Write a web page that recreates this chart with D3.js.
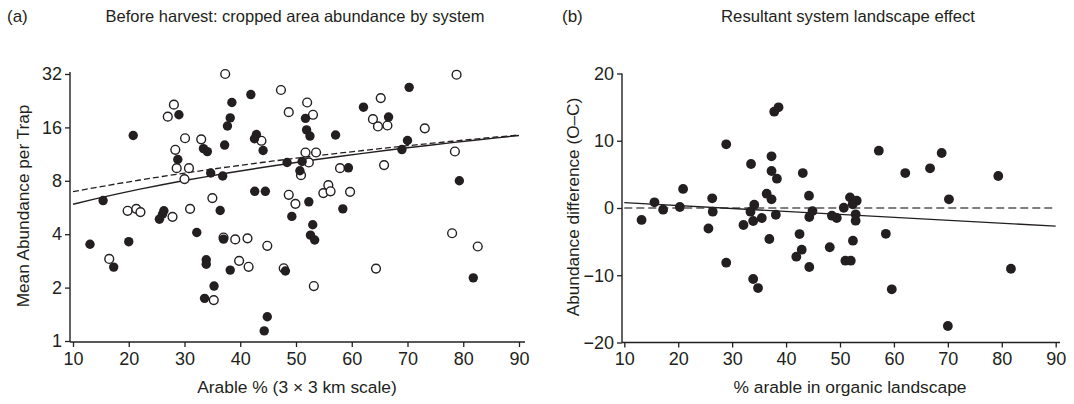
<!DOCTYPE html>
<html>
<head>
<meta charset="utf-8">
<script src="https://cdn.jsdelivr.net/npm/d3@7"></script>
<style>
    body { margin: 0; background: #fff; }
    svg { display: block; }
    text { font-family: "Liberation Sans", Arial, sans-serif; fill: #231f20; }
</style>
</head>
<body>
<div id="chart"></div>
<script>
// panel (a): arable % vs mean abundance per trap
const openPoints = [
    [37.3, 32.0], [47.3, 26.0], [28.1, 21.5], [27.0, 18.4], [48.7, 19.5], [30.1, 13.9],
    [33.0, 13.7], [43.8, 13.45], [28.35, 11.96], [28.6, 9.43], [30.8, 9.43], [30.0, 8.18],
    [35.0, 6.39], [48.7, 6.67], [19.8, 5.42], [21.35, 5.56], [22.1, 5.33], [27.85, 5.01],
    [31.0, 5.56], [52.0, 22.1], [53.05, 18.85], [51.7, 11.55], [53.6, 11.55], [52.3, 10.15],
    [50.9, 8.61], [57.9, 9.43], [49.9, 5.93], [55.8, 7.56], [54.9, 6.82], [56.2, 6.98],
    [59.7, 6.93], [78.8, 31.7], [65.2, 23.4], [63.8, 17.8], [64.7, 16.2], [66.4, 16.4],
    [73.1, 15.8], [78.5, 11.7], [65.8, 9.81], [37.0, 3.83], [39.1, 3.74], [41.3, 3.79],
    [44.85, 3.44], [16.5, 2.90], [39.8, 2.83], [41.5, 2.62], [47.8, 2.57], [53.2, 2.04],
    [35.25, 1.70], [78.0, 4.05], [82.6, 3.41], [64.35, 2.56]
];
const filledPoints = [
    [20.8, 14.4], [29.0, 18.85], [41.9, 24.5], [38.5, 22.1], [38.2, 18.1], [37.7, 16.3],
    [42.9, 14.6], [42.55, 13.8], [44.1, 11.86], [33.4, 12.15], [34.1, 11.69], [37.2, 12.72],
    [28.8, 10.55], [34.7, 8.85], [36.85, 8.51], [48.4, 10.15], [15.4, 6.19], [42.6, 6.98],
    [44.5, 6.98], [36.4, 5.44], [26.3, 5.42], [26.05, 5.18], [25.5, 4.86], [49.25, 5.04],
    [51.7, 18.0], [51.9, 15.5], [52.5, 14.3], [57.1, 14.5], [51.1, 10.28], [50.7, 9.11],
    [59.4, 9.47], [52.3, 6.09], [58.4, 5.56], [70.3, 26.9], [62.1, 20.8], [66.6, 18.3],
    [70.0, 13.5], [69.0, 12.0], [79.3, 8.0], [53.0, 4.52], [52.6, 3.95], [53.35, 3.71],
    [13.05, 3.51], [20.0, 3.63], [17.3, 2.61], [32.2, 4.09], [37.0, 3.75], [33.9, 2.87],
    [33.9, 2.71], [38.2, 2.51], [48.1, 2.48], [35.3, 2.04], [33.6, 1.74], [44.85, 1.37],
    [44.3, 1.14], [81.8, 2.27]
];
// fitted lines, end values (straight in untransformed abundance)
const fitSolidA = [[10, 5.9], [90, 14.4]];
const fitDashedA = [[10, 6.95], [90, 14.5]];
const xTicksA = [10, 20, 30, 40, 50, 60, 70, 80, 90];
const yTicksA = [1, 2, 4, 8, 16, 32];

// panel (b): % arable in organic landscape vs abundance difference (O-C)
const diffPoints = [
    [13.2, -1.78], [15.6, 0.85], [17.2, -0.25], [20.3, 0.15], [20.9, 2.83], [26.3, 1.44],
    [26.4, -0.55], [28.9, 9.47], [25.6, -3.05], [33.5, 6.54], [34.1, 0.49], [33.4, -0.55],
    [33.9, -1.93], [32.1, -2.53], [35.5, -1.49], [36.4, 2.13], [37.3, 1.29], [37.3, 7.69],
    [37.3, 5.50], [38.3, 4.36], [37.8, 14.32], [38.6, 14.97], [38.1, -1.0], [43.1, 5.20],
    [44.25, 1.83], [44.3, -1.34], [42.5, -3.87], [36.9, -4.61], [42.9, -6.20], [41.9, -7.24],
    [44.3, -8.77], [28.9, -8.13], [33.9, -10.56], [34.8, -11.9], [57.2, 8.52], [68.85, 8.18],
    [62.1, 5.20], [66.7, 5.90], [79.35, 4.76], [70.2, 1.29], [51.85, 1.58], [53.1, 1.09],
    [52.35, 0.55], [50.7, 0.04], [44.9, -0.45], [48.5, -1.14], [49.4, -1.49], [52.9, -0.94],
    [52.9, -1.89], [58.5, -3.84], [48.1, -5.84], [52.4, -4.86], [51.0, -7.84], [52.0, -7.84],
    [59.6, -12.09], [81.7, -9.03], [70.0, -17.55]
];
const fitSolidB = [[10, 0.8], [90, -2.7]];
const fitDashedB = [[10, 0], [90, 0]];
const xTicksB = [10, 20, 30, 40, 50, 60, 70, 80, 90];
const yTicksB = [-20, -10, 0, 10, 20];

const ink = '#231f20';

function init() {
    const svg = d3.select('#chart')
        .append('svg')
        .attr('width', 1074)
        .attr('height', 404);

    // ---- panel (a) ----
    const xA = d3.scaleLinear().domain([10, 90]).range([73, 519]);
    const yA = d3.scaleLog().base(2).domain([1, 32]).range([341, 74]);

    drawAxes(svg, xA, yA, xTicksA, yTicksA, d3.format('d'), {
        axisX: 70, axisY: 342, xEnd: 525, yTop: 72
    });

    const lineA = d3.line().x(d => xA(d[0])).y(d => yA(d[1]));
    svg.append('path')
        .attr('d', lineA(sampleFit(fitDashedA)))
        .attr('fill', 'none').attr('stroke', ink).attr('stroke-width', 1.3)
        .attr('stroke-dasharray', '6,3');
    svg.append('path')
        .attr('d', lineA(sampleFit(fitSolidA)))
        .attr('fill', 'none').attr('stroke', ink).attr('stroke-width', 1.4);

    svg.append('g').selectAll('circle')
        .data(openPoints)
        .join('circle')
        .attr('cx', d => xA(d[0]))
        .attr('cy', d => yA(d[1]))
        .attr('r', 4.4)
        .attr('fill', '#fff')
        .attr('stroke', ink)
        .attr('stroke-width', 1.4);

    svg.append('g').selectAll('circle')
        .data(filledPoints)
        .join('circle')
        .attr('cx', d => xA(d[0]))
        .attr('cy', d => yA(d[1]))
        .attr('r', 4.7)
        .attr('fill', ink);

    svg.append('text').attr('x', 7).attr('y', 22).style('font-size', '17px').text('(a)');
    svg.append('text').attr('x', 295).attr('y', 22).attr('text-anchor', 'middle')
        .style('font-size', '16.5px').text('Before harvest: cropped area abundance by system');
    svg.append('text').attr('x', 297).attr('y', 393).attr('text-anchor', 'middle')
        .style('font-size', '17.4px').text('Arable % (3 × 3 km scale)');
    svg.append('text').attr('transform', 'translate(29,206) rotate(-90)').attr('text-anchor', 'middle')
        .style('font-size', '17.2px').text('Mean Abundance per Trap');

    // ---- panel (b) ----
    const xB = d3.scaleLinear().domain([10, 90]).range([624.3, 1055.7]);
    const yB = d3.scaleLinear().domain([-20, 20]).range([342.5, 73.5]);

    drawAxes(svg, xB, yB, xTicksB, yTicksB, d3.format('d'), {
        axisX: 622, axisY: 342.5, xEnd: 1060, yTop: 73.5
    });

    const lineB = d3.line().x(d => xB(d[0])).y(d => yB(d[1]));
    svg.append('path')
        .attr('d', lineB(fitDashedB))
        .attr('fill', 'none').attr('stroke', '#555').attr('stroke-width', 1.6)
        .attr('stroke-dasharray', '8,4');
    svg.append('path')
        .attr('d', lineB(fitSolidB))
        .attr('fill', 'none').attr('stroke', ink).attr('stroke-width', 1.4);

    svg.append('g').selectAll('circle')
        .data(diffPoints)
        .join('circle')
        .attr('cx', d => xB(d[0]))
        .attr('cy', d => yB(d[1]))
        .attr('r', 4.9)
        .attr('fill', ink);

    svg.append('text').attr('x', 562).attr('y', 22).style('font-size', '17px').text('(b)');
    svg.append('text').attr('x', 848).attr('y', 22).attr('text-anchor', 'middle')
        .style('font-size', '16.7px').text('Resultant system landscape effect');
    svg.append('text').attr('x', 850).attr('y', 393).attr('text-anchor', 'middle')
        .style('font-size', '17.4px').text('% arable in organic landscape');
    svg.append('text').attr('transform', 'translate(579,207) rotate(-90)').attr('text-anchor', 'middle')
        .style('font-size', '17.2px').text('Abundance difference (O–C)');
}

// straight fit in data space, sampled so it bends correctly on a log axis
function sampleFit(ends) {
    const [x0, y0] = ends[0], [x1, y1] = ends[1];
    return d3.range(0, 1.0001, 0.05).map(t => [x0 + (x1 - x0) * t, y0 + (y1 - y0) * t]);
}

function drawAxes(svg, x, y, xTicks, yTicks, fmt, o) {
    const gx = svg.append('g')
        .attr('transform', `translate(0, ${o.axisY})`)
        .call(d3.axisBottom(x).tickValues(xTicks).tickFormat(fmt).tickSize(5).tickSizeOuter(0));
    gx.select('.domain').remove();
    gx.selectAll('line').attr('stroke', ink).attr('stroke-width', 1.3);
    gx.selectAll('text').attr('y', 10).style('font-size', '18px').style('fill', ink);

    const gy = svg.append('g')
        .attr('transform', `translate(${o.axisX}, 0)`)
        .call(d3.axisLeft(y).tickValues(yTicks).tickFormat(fmt).tickSize(5).tickSizeOuter(0));
    gy.select('.domain').remove();
    gy.selectAll('line').attr('stroke', ink).attr('stroke-width', 1.3);
    gy.selectAll('text').attr('x', -8).style('font-size', '18px').style('fill', ink);

    svg.append('line')
        .attr('x1', o.axisX).attr('x2', o.xEnd)
        .attr('y1', o.axisY).attr('y2', o.axisY)
        .attr('stroke', ink).attr('stroke-width', 1.4);
    svg.append('line')
        .attr('x1', o.axisX).attr('x2', o.axisX)
        .attr('y1', o.yTop).attr('y2', o.axisY)
        .attr('stroke', ink).attr('stroke-width', 1.4);
}

window.onload = init;
</script>
</body>
</html>
